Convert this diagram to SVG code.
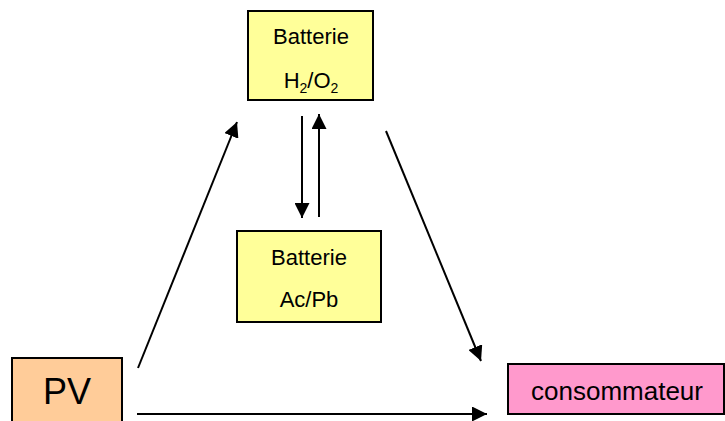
<svg xmlns="http://www.w3.org/2000/svg" width="725" height="421" viewBox="0 0 725 421">
<style>
.box{stroke:#000;stroke-width:2}
.t{font-family:"Liberation Sans",Arial,sans-serif;fill:#000;text-anchor:middle}
.c{stroke:#000;stroke-width:2;fill:none;marker-end:url(#ah)}
</style>
<defs>
<marker id="ah" viewBox="0 0 10 10" refX="10" refY="5" markerWidth="7.5" markerHeight="7.5" markerUnits="strokeWidth" orient="auto">
<path d="M0,0 L10,5 L0,10 z" fill="#000"/>
</marker>
</defs>
<rect width="725" height="421" fill="#fff"/>
<g id="connectors">
<line class="c" x1="302" y1="116" x2="302" y2="218"/>
<line class="c" x1="319" y1="217" x2="319" y2="114"/>
<line class="c" x1="138" y1="368" x2="237" y2="122"/>
<line class="c" x1="386" y1="131" x2="481" y2="361"/>
<line class="c" x1="137" y1="414" x2="487" y2="414"/>
</g>
<g id="batterie-h2o2">
<rect class="box" x="248" y="11" width="125" height="89" fill="#FFFF99"/>
<text class="t" x="311" y="44" font-size="22">Batterie</text>
<text class="t" x="311" y="88" font-size="22">H<tspan font-size="14" dy="5">2</tspan><tspan dy="-5">/O</tspan><tspan font-size="14" dy="5">2</tspan></text>
</g>
<g id="batterie-acpb">
<rect class="box" x="237" y="231" width="144" height="91" fill="#FFFF99"/>
<text class="t" x="309" y="265" font-size="22">Batterie</text>
<text class="t" x="309" y="307" font-size="22">Ac/Pb</text>
</g>
<g id="pv">
<rect class="box" x="12" y="358" width="110" height="70" fill="#FFCC99"/>
<text class="t" x="67" y="404" font-size="36">PV</text>
</g>
<g id="consommateur">
<rect class="box" x="508" y="364" width="216" height="50" fill="#FF99CC"/>
<text class="t" x="617" y="400" font-size="26">consommateur</text>
</g>
</svg>
